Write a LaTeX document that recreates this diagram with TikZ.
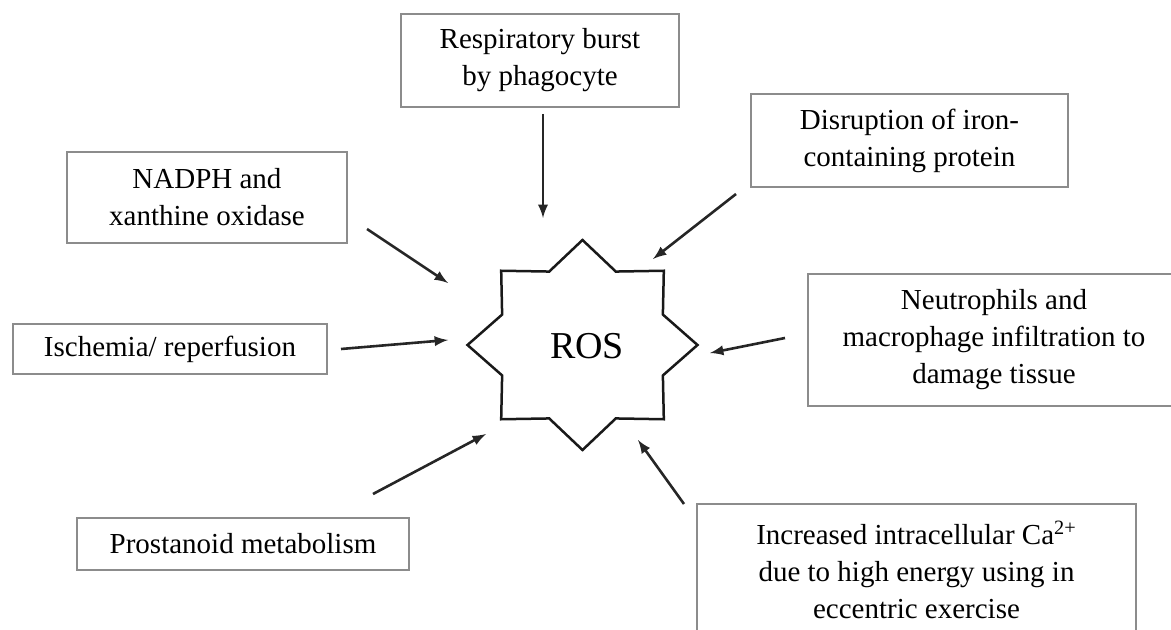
\documentclass[tikz,border=0pt]{standalone}
\usepackage{fontspec}
\setmainfont{Liberation Serif}
\usetikzlibrary{positioning}

\tikzset{
  cause/.style={draw=black!45,line width=0.6pt,align=center,inner sep=0pt,
    font=\fontsize{14.5}{18.5}\selectfont},
  push/.style={-latex,line width=1.3pt,black!85},
  starline/.style={line width=1.25pt,line join=miter,black!90}
}

\begin{document}
\begin{tikzpicture}[x=0.5pt,y=-0.5pt]
 	\useasboundingbox (0,0) rectangle (1171,630);
 	\clip (0,0) rectangle (1171,630);
 	% the star round ROS
 	\begin{scope}[shift={(582.5,345)}]
 	\draw[starline] (0:115 and 105) \foreach \a in {0,45,...,315} {-- (\a+22.5:87 and 79.5) -- (\a+45:115 and 105)} -- cycle;
 	\end{scope}
 	\node[font=\fontsize{19}{22}\selectfont] (ros) at (587,346) {ROS};
 	% causes
 	\node[cause,minimum width=139pt,minimum height=46.5pt] (resp) at (540,60.5) {Respiratory burst\\by phagocyte};
 	\node[cause,minimum width=158.5pt,minimum height=46.5pt] (disr) at (909.5,140.5) {Disruption of iron-\\containing protein};
 	\node[cause,minimum width=186pt,minimum height=66pt] (neut) at (994,340) {Neutrophils and\\macrophage infiltration to\\damage tissue};
 	\node[cause,minimum width=140pt,minimum height=45.5pt] (nadph) at (207,197.5) {NADPH and\\xanthine oxidase};
 	\node[cause,minimum width=157pt,minimum height=25pt] (isch) at (170,349) {Ischemia/ reperfusion};
 	\node[cause,minimum width=166pt,minimum height=26pt] (prost) at (243,544) {Prostanoid metabolism};
 	\node[cause,minimum width=219.5pt,minimum height=66pt] (incr) at (916.5,570) {Increased intracellular Ca\textsuperscript{2+}\\due to high energy using in\\eccentric exercise};
 	% arrow ends
 	\coordinate (respT) at (543,114);  \coordinate (respH) at (543,218);
 	\coordinate (disrT) at (736,194);  \coordinate (disrH) at (653,259);
 	\coordinate (nadphT) at (367,229); \coordinate (nadphH) at (448,283);
 	\coordinate (ischT) at (341,349);  \coordinate (ischH) at (448,340);
 	\coordinate (neutT) at (785,338);  \coordinate (neutH) at (710,353);
 	\coordinate (prostT) at (373,494); \coordinate (prostH) at (486,434);
 	\coordinate (incrT) at (684,504);  \coordinate (incrH) at (638,440);
 	\foreach \c in {resp,disr,nadph,isch,neut,prost,incr}
 	\draw[push] (\c T) -- (\c H);
\end{tikzpicture}
\end{document}
